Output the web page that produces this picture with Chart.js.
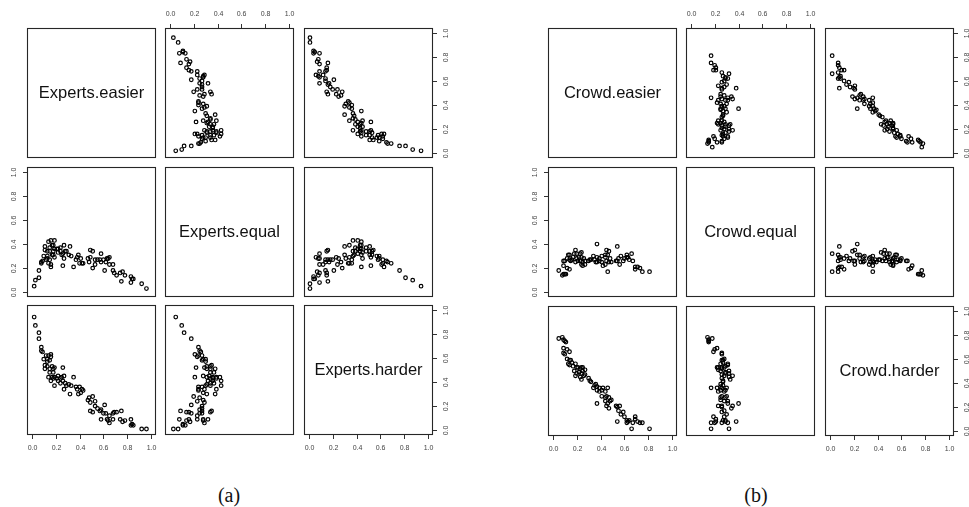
<!DOCTYPE html>
<html>
<head>
<meta charset="utf-8">
<script src="https://cdn.jsdelivr.net/npm/chart.js@4.4.0/dist/chart.umd.min.js"></script>
<style>
  body { margin: 0; background: #fff; width: 969px; height: 507px; overflow: hidden; position: relative; }
  canvas { position: absolute; }
  .cap { position: absolute; font-family: "Liberation Serif", "DejaVu Serif", serif; font-size: 20px; transform: translateX(-50%); color: #111; }
</style>
</head>
<body>
<div class="cap" style="left:229px;top:484px">(a)</div>
<div class="cap" style="left:756px;top:484px">(b)</div>
<script>
const varNames = ['easier', 'equal', 'harder'];
const tickValues = [0, 0.2, 0.4, 0.6, 0.8, 1.0];
const tickLabels = ['0.0', '0.2', '0.4', '0.6', '0.8', '1.0'];

// Experts
const expertsEasier = [0.02,0.03,0.06,0.06,0.08,0.08,0.09,0.10,0.12,0.13,
  0.14,0.16,0.16,0.15,0.13,0.11,0.11,0.13,0.15,0.17,
  0.18,0.19,0.18,0.26,0.15,0.14,0.17,0.16,0.18,0.19,
  0.21,0.22,0.24,0.25,0.27,0.19,0.22,0.24,0.26,0.28,
  0.27,0.29,0.31,0.33,0.35,0.32,0.37,0.38,0.40,0.42,
  0.39,0.41,0.43,0.47,0.48,0.49,0.51,0.53,0.53,0.49,
  0.51,0.55,0.57,0.58,0.61,0.60,0.62,0.58,0.63,0.64,
  0.65,0.68,0.69,0.71,0.68,0.65,0.75,0.74,0.76,0.78,
  0.83,0.84,0.85,0.83,0.92,0.96];
const expertsEqual = [0.05,0.10,0.12,0.18,0.24,0.25,0.26,0.30,0.27,0.28,
  0.24,0.21,0.23,0.27,0.30,0.35,0.38,0.34,0.34,0.31,
  0.31,0.29,0.34,0.22,0.37,0.42,0.39,0.43,0.39,0.36,
  0.36,0.33,0.34,0.31,0.28,0.43,0.36,0.37,0.32,0.34,
  0.39,0.34,0.31,0.30,0.21,0.38,0.27,0.29,0.24,0.24,
  0.31,0.28,0.24,0.28,0.25,0.29,0.20,0.23,0.27,0.35,
  0.34,0.27,0.27,0.25,0.18,0.27,0.25,0.32,0.28,0.28,
  0.23,0.18,0.16,0.14,0.23,0.29,0.09,0.16,0.17,0.14,
  0.08,0.11,0.11,0.13,0.07,0.03];
const expertsHarder = [0.94,0.87,0.81,0.76,0.69,0.66,0.65,0.59,0.62,0.59,
  0.62,0.63,0.61,0.58,0.57,0.54,0.51,0.53,0.51,0.53,
  0.51,0.52,0.48,0.52,0.48,0.44,0.44,0.41,0.43,0.44,
  0.43,0.45,0.43,0.44,0.45,0.37,0.41,0.39,0.41,0.39,
  0.34,0.37,0.38,0.37,0.44,0.30,0.36,0.34,0.36,0.34,
  0.30,0.31,0.33,0.25,0.27,0.23,0.28,0.24,0.20,0.16,
  0.15,0.18,0.16,0.17,0.21,0.14,0.14,0.09,0.09,0.08,
  0.12,0.14,0.15,0.15,0.09,0.06,0.16,0.09,0.07,0.08,
  0.09,0.05,0.04,0.04,0.01,0.01];

// Crowd
const crowdEasier = [0.05,0.08,0.09,0.10,0.11,0.09,0.12,0.14,0.09,0.10,
  0.12,0.14,0.15,0.16,0.13,0.14,0.17,0.19,0.20,0.21,
  0.23,0.24,0.25,0.27,0.18,0.20,0.22,0.24,0.25,0.19,
  0.23,0.24,0.26,0.27,0.30,0.31,0.32,0.35,0.34,0.36,
  0.37,0.39,0.37,0.39,0.41,0.42,0.44,0.46,0.41,0.44,
  0.45,0.47,0.44,0.46,0.48,0.49,0.37,0.45,0.47,0.53,
  0.54,0.56,0.55,0.59,0.57,0.60,0.62,0.63,0.64,0.69,
  0.69,0.71,0.73,0.75,0.54,0.66,0.81,0.62,0.67];
const crowdEqual = [0.18,0.14,0.15,0.15,0.15,0.22,0.20,0.19,0.26,0.26,
  0.28,0.27,0.26,0.27,0.31,0.31,0.29,0.25,0.28,0.26,
  0.26,0.23,0.22,0.23,0.32,0.32,0.29,0.29,0.25,0.35,
  0.32,0.33,0.28,0.26,0.26,0.27,0.27,0.27,0.30,0.25,
  0.25,0.26,0.29,0.28,0.25,0.22,0.23,0.17,0.30,0.29,
  0.26,0.25,0.31,0.31,0.28,0.25,0.40,0.35,0.34,0.26,
  0.26,0.23,0.28,0.26,0.30,0.28,0.29,0.29,0.27,0.19,
  0.21,0.21,0.20,0.17,0.38,0.32,0.17,0.31,0.26];
const crowdHarder = [0.77,0.78,0.76,0.75,0.74,0.69,0.68,0.66,0.65,0.64,
  0.60,0.59,0.59,0.57,0.56,0.55,0.54,0.56,0.53,0.53,
  0.52,0.53,0.53,0.51,0.50,0.48,0.49,0.48,0.50,0.46,
  0.45,0.43,0.46,0.47,0.44,0.42,0.41,0.38,0.36,0.39,
  0.37,0.36,0.34,0.33,0.34,0.36,0.33,0.36,0.29,0.28,
  0.29,0.28,0.25,0.23,0.25,0.26,0.23,0.21,0.19,0.21,
  0.20,0.21,0.17,0.16,0.14,0.12,0.09,0.08,0.09,0.12,
  0.10,0.08,0.07,0.07,0.08,0.02,0.02,0.07,0.07];

// panel geometry
const PW = 129, PH = 130, M = 30;

const panelPlugin = {
  id: 'panel',
  afterDraw(chart, args, opts) {
    const ctx = chart.ctx;
    const a = chart.chartArea;
    ctx.save();
    ctx.strokeStyle = '#262626';
    ctx.lineWidth = 1.1;
    ctx.strokeRect(a.left + 0.5, a.top + 0.5, a.right - a.left - 1, a.bottom - a.top - 1);

    if (opts.label) {
      ctx.fillStyle = '#111';
      ctx.font = '16.5px "Liberation Sans", Arial, sans-serif';
      ctx.textAlign = 'center';
      ctx.textBaseline = 'middle';
      ctx.fillText(opts.label, (a.left + a.right) / 2, (a.top + a.bottom) / 2);
    }

    ctx.font = '7px "Liberation Sans", Arial, sans-serif';
    ctx.fillStyle = '#444';
    ctx.strokeStyle = '#333';
    ctx.lineWidth = 1;
    const xs = chart.scales.x, ys = chart.scales.y;
    (opts.sides || []).forEach(side => {
      tickValues.forEach((v, i) => {
        if (side === 'top' || side === 'bottom') {
          const px = Math.round(xs.getPixelForValue(v)) + 0.5;
          const y0 = side === 'top' ? a.top : a.bottom;
          const d = side === 'top' ? -1 : 1;
          ctx.beginPath(); ctx.moveTo(px, y0); ctx.lineTo(px, y0 + d * 4); ctx.stroke();
          ctx.textAlign = 'center'; ctx.textBaseline = 'middle';
          ctx.fillText(tickLabels[i], px, y0 + d * 13.5);
        } else {
          const py = Math.round(ys.getPixelForValue(v)) + 0.5;
          const x0 = side === 'left' ? a.left : a.right;
          const d = side === 'left' ? -1 : 1;
          ctx.beginPath(); ctx.moveTo(x0, py); ctx.lineTo(x0 + d * 4, py); ctx.stroke();
          ctx.save();
          ctx.translate(x0 + d * 13, py);
          ctx.rotate(-Math.PI / 2);
          ctx.textAlign = 'center'; ctx.textBaseline = 'middle';
          ctx.fillText(tickLabels[i], 0, 0);
          ctx.restore();
        }
      });
    });
    ctx.restore();
  }
};

function axisSides(r, c) {
  const s = [];
  if (r === 0 && c % 2 === 1) s.push('top');
  if (r === 2 && c % 2 === 0) s.push('bottom');
  if (c === 0 && r % 2 === 1) s.push('left');
  if (c === 2 && r % 2 === 0) s.push('right');
  return s;
}

function drawMatrix(prefix, vars, left, top, step) {
  for (let r = 0; r < 3; r++) {
    for (let c = 0; c < 3; c++) {
      const cv = document.createElement('canvas');
      cv.width = PW + 2 * M;
      cv.height = PH + 2 * M;
      cv.style.left = (Math.round(left + c * step) - M) + 'px';
      cv.style.top = (Math.round(top + r * step) - M) + 'px';
      document.body.appendChild(cv);

      const pts = r === c ? [] : vars[c].map((x, i) => ({ x: x, y: vars[r][i] }));

      new Chart(cv, {
        type: 'scatter',
        data: {
          datasets: [{
            data: pts,
            pointRadius: 1.8,
            pointHoverRadius: 1.8,
            borderWidth: 1.2,
            borderColor: '#000',
            backgroundColor: 'rgba(0,0,0,0)'
          }]
        },
        options: {
          responsive: false,
          animation: false,
          events: [],
          layout: { padding: { left: M, right: M, top: M, bottom: M } },
          scales: {
            x: { type: 'linear', min: -0.04, max: 1.04, display: false },
            y: { type: 'linear', min: -0.04, max: 1.04, display: false }
          },
          plugins: {
            legend: { display: false },
            tooltip: { enabled: false },
            panel: {
              label: r === c ? prefix + '.' + varNames[r] : null,
              sides: axisSides(r, c)
            }
          }
        },
        plugins: [panelPlugin]
      });
    }
  }
}

drawMatrix('Experts', [expertsEasier, expertsEqual, expertsHarder], 26.7, 28.3, 138.4);
drawMatrix('Crowd', [crowdEasier, crowdEqual, crowdHarder], 547.7, 28.3, 138.6);
</script>
</body>
</html>
